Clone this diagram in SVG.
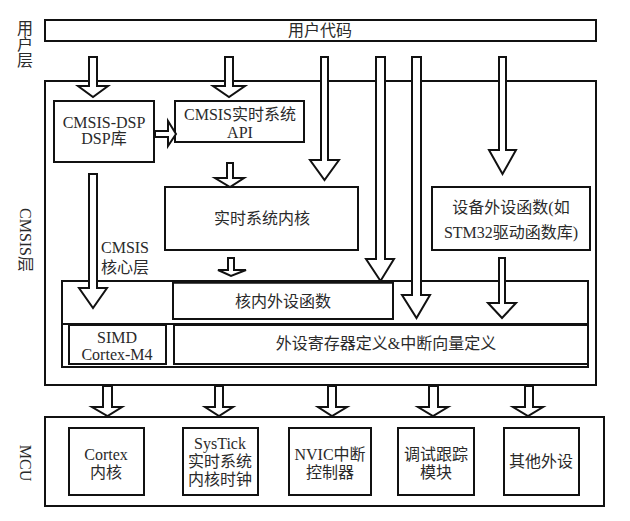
<svg xmlns="http://www.w3.org/2000/svg" width="630" height="521" viewBox="0 0 630 521">
<style>
.box{fill:none;stroke:#111;stroke-width:2}
.wbox{fill:#fff;stroke:#111;stroke-width:2}
.arr{fill:#fff;stroke:#111;stroke-width:2;stroke-linejoin:miter}
text{font-family:"Liberation Serif","Noto Sans CJK SC",serif;font-size:16px;fill:#2a2a2a;text-anchor:middle;dominant-baseline:central}
</style>
<rect width="630" height="521" fill="#fff"/>
<g id="labels">
<text x="25"><tspan x="25" y="28">用</tspan><tspan x="25" y="44">户</tspan><tspan x="25" y="60">层</tspan></text>
<text transform="translate(25,240) rotate(90)">CMSIS层</text>
<text transform="translate(25,463) rotate(90)">MCU</text>
</g>
<g id="user-code"><rect class="box" x="45" y="20" width="551" height="21"/><text x="320" y="30">用户代码</text></g>
<g id="cmsis-layer"><rect class="box" x="45" y="81" width="551" height="304"/></g>
<g id="cmsis-dsp"><rect class="box" x="54" y="101" width="100" height="61"/><text x="104" y="122">CMSIS-DSP</text><text x="104" y="138">DSP库</text></g>
<g id="cmsis-rtos-api"><rect class="box" x="175" y="101" width="129" height="41"/><text x="240" y="114">CMSIS实时系统</text><text x="240" y="132">API</text></g>
<g id="rtos-kernel"><rect class="box" x="165" y="187" width="193" height="63"/><text x="262" y="218">实时系统内核</text></g>
<g id="device-periph"><rect class="box" x="432" y="187" width="158" height="63"/><text x="511" y="207">设备外设函数(如</text><text x="511" y="232">STM32驱动函数库)</text></g>
<g id="core-label"><text x="125" y="247">CMSIS</text><text x="125" y="267">核心层</text></g>
<g id="cmsis-core"><rect class="box" x="62" y="281" width="526" height="86"/><line x1="62" y1="324" x2="588" y2="324" stroke="#111" stroke-width="2"/></g>
<g id="core-periph"><rect class="box" x="173" y="282" width="220" height="37"/><line x1="173" y1="282" x2="393" y2="282" stroke="#111" stroke-width="3.5"/><text x="283" y="301">核内外设函数</text></g>
<g id="simd"><rect class="box" x="69" y="325" width="97" height="39"/><text x="117" y="337">SIMD</text><text x="117" y="354">Cortex-M4</text></g>
<g id="periph-reg"><rect class="box" x="174" y="325" width="414" height="39"/><text x="386" y="343">外设寄存器定义&amp;中断向量定义</text></g>
<g id="mcu"><rect class="box" x="45" y="417" width="559" height="89"/></g>
<g id="cortex-core"><rect class="box" x="69" y="428" width="75" height="67"/><text x="106" y="454">Cortex</text><text x="106" y="472">内核</text></g>
<g id="systick"><rect class="box" x="183" y="428" width="75" height="67"/><text x="220" y="443">SysTick</text><text x="220" y="461">实时系统</text><text x="220" y="479">内核时钟</text></g>
<g id="nvic"><rect class="box" x="289" y="428" width="82" height="67"/><text x="330" y="454">NVIC中断</text><text x="330" y="472">控制器</text></g>
<g id="debug"><rect class="box" x="398" y="428" width="76" height="67"/><text x="436" y="454">调试跟踪</text><text x="436" y="472">模块</text></g>
<g id="other-periph"><rect class="box" x="504" y="428" width="75" height="67"/><text x="541" y="461">其他外设</text></g>
<g id="connectors">
<path class="arr" d="M89,57H97V86H108L93,97L78,86H89Z"/>
<path class="arr" d="M225,57H233V86H245L229,97L213,86H225Z"/>
<path class="arr" d="M321,57H328V160H339L324.5,180L310,160H321Z"/>
<path class="arr" d="M376,57H385V259H394L380.5,281L366,259H376Z"/>
<path class="arr" d="M412,57H421V295H430L416.5,318L402,295H412Z"/>
<path class="arr" d="M499,57H506V150H516L502.5,174L489,150H499Z"/>
<path class="arr" d="M227,163H233V178H244L230,187L215,178H227Z"/>
<path class="arr" d="M228,258H234V270H246L231,276L218,270H228Z"/>
<path class="arr" d="M89,174H97V288H107L93,308L79,288H89Z"/>
<path class="arr" d="M499,258H505V303H516L502,318L488,303H499Z"/>
<path class="arr" d="M155,131V137H168V146L176,134L168,121V131Z"/>
<path class="arr" d="M103,386H112V407H122L107.5,416L92,407H103Z"/>
<path class="arr" d="M215,386H223V407H233L219,416L205,407H215Z"/>
<path class="arr" d="M328,386H336V407H347L332,416L318,407H328Z"/>
<path class="arr" d="M429,386H438V407H448L433,416L418,407H429Z"/>
<path class="arr" d="M525,386H533V407H543L528,416L513,407H525Z"/>
</g>
</svg>
